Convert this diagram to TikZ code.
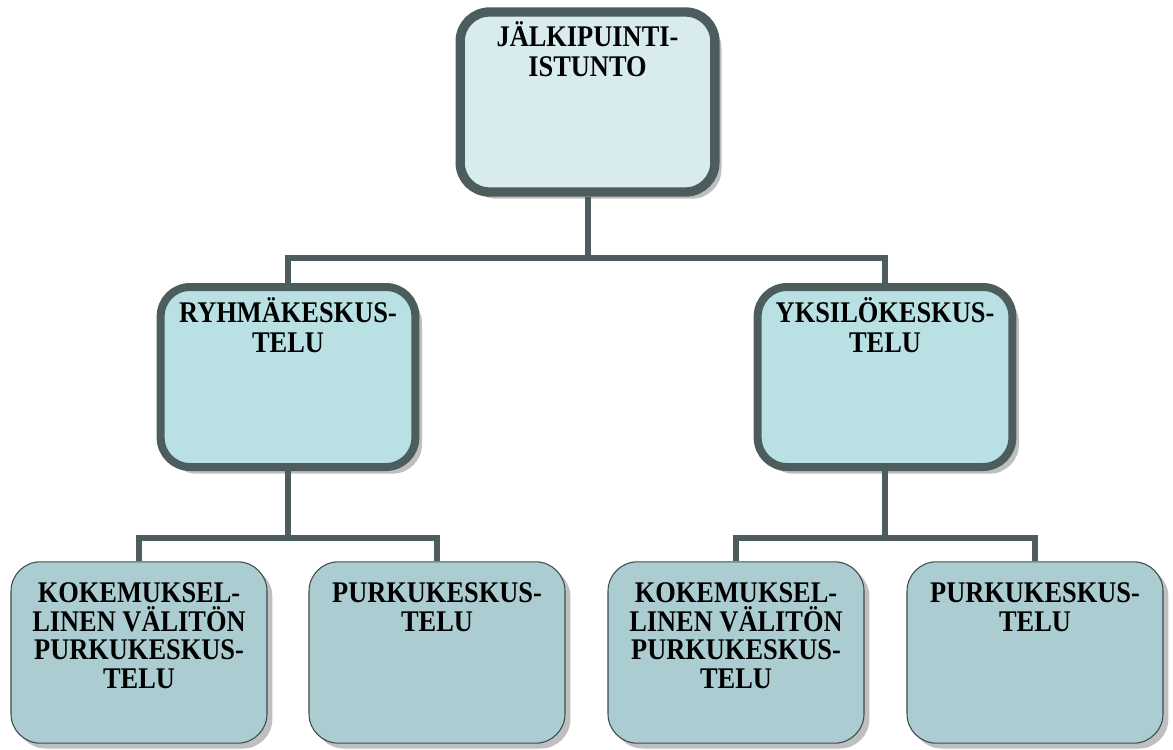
\documentclass[tikz,border=0pt]{standalone}
\usepackage{fontspec}
\setmainfont[FakeStretch=0.88]{Liberation Serif}
\usetikzlibrary{shadows}
\definecolor{edgegray}{HTML}{4D5C5C}
\definecolor{topfill}{HTML}{D8ECEF}
\definecolor{midfill}{HTML}{B9E0E3}
\definecolor{lowfill}{HTML}{ABCDD1}
\definecolor{lowedge}{HTML}{3E4B4B}
\begin{document}
\begin{tikzpicture}[x=0.75pt,y=-0.75pt]
            \tikzstyle{every node}+=[inner sep=0pt]
            \tikzstyle{bigbox}=[draw=edgegray, line width=6pt, rounded corners=22pt, minimum width=191pt, minimum height=135pt, drop shadow={shadow xshift=5pt, shadow yshift=-5pt, fill=black!25, opacity=1}]
            \tikzstyle{lowbox}=[draw=lowedge, line width=0.8pt, fill=lowfill, rounded corners=22pt, minimum width=192pt, minimum height=136pt, drop shadow={shadow xshift=4pt, shadow yshift=-4pt, fill=black!25, opacity=1}]
            \tikzstyle{boxtext}=[anchor=north, align=center, font=\fontsize{22.5}{22.5}\selectfont\bfseries]
            \tikzstyle{lowtext}=[boxtext, font=\fontsize{22.5}{21.4}\selectfont\bfseries]
            \tikzstyle{conn}=[draw=edgegray, line width=4.5pt]
            \useasboundingbox (0,0) rectangle (1173,749);
            % boxes
            \node [bigbox, fill=topfill, line width=7pt] (jalki) at (587.5,102) {};
            \node [bigbox, fill=midfill] (ryhma) at (288,377) {};
            \node [bigbox, fill=midfill] (yksilo) at (885,377) {};
            \node [lowbox] (kokemusA) at (139,652.5) {};
            \node [lowbox] (purkuA) at (437,652.5) {};
            \node [lowbox] (kokemusB) at (736,652.5) {};
            \node [lowbox] (purkuB) at (1035,652.5) {};
            % texts
            \node [boxtext] (jalkiText) at ([yshift=-10.5pt]jalki.north) {JÄLKIPUINTI-\\ISTUNTO};
            \node [boxtext] (ryhmaText) at ([yshift=-10.5pt]ryhma.north) {RYHMÄKESKUS-\\TELU};
            \node [boxtext] (yksiloText) at ([yshift=-10.5pt]yksilo.north) {YKSILÖKESKUS-\\TELU};
            \node [lowtext] (kokemusAText) at ([yshift=-16pt]kokemusA.north) {KOKEMUKSEL-\\LINEN VÄLITÖN\\PURKUKESKUS-\\TELU};
            \node [lowtext] (purkuAText) at ([yshift=-16pt]purkuA.north) {PURKUKESKUS-\\TELU};
            \node [lowtext] (kokemusBText) at ([yshift=-16pt]kokemusB.north) {KOKEMUKSEL-\\LINEN VÄLITÖN\\PURKUKESKUS-\\TELU};
            \node [lowtext] (purkuBText) at ([yshift=-16pt]purkuB.north) {PURKUKESKUS-\\TELU};
            % connectors
            \coordinate (j0) at (587.5,258);
            \coordinate (j1) at (288,538);
            \coordinate (j2) at (885,538);
            \draw [conn] (jalki.south) -- (j0);
            \draw [conn] (ryhma.north) |- (j0) -| (yksilo.north);
            \draw [conn] (ryhma.south) -- (j1);
            \draw [conn] (kokemusA.north) |- (j1) -| (purkuA.north);
            \draw [conn] (yksilo.south) -- (j2);
            \draw [conn] (kokemusB.north) |- (j2) -| (purkuB.north);
\end{tikzpicture}
\end{document}
